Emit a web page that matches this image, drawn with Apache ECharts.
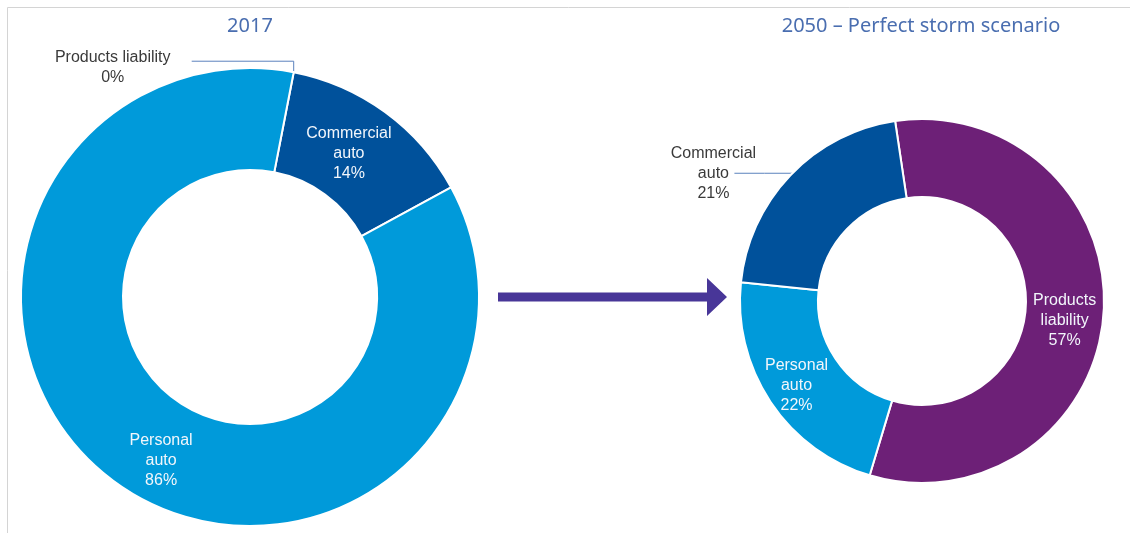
<!DOCTYPE html>
<html>
<head>
<meta charset="utf-8">
<script src="https://cdn.jsdelivr.net/npm/echarts@6/dist/echarts.min.js"></script>
<style>
  html, body { margin: 0; padding: 0; background: #ffffff; }
  #chart { width: 1130px; height: 533px; }
</style>
</head>
<body>
<div id="chart"></div>
<script>
// Loss mix by line of business, 2017 vs 2050 scenario
const categories2017 = ['Products liability', 'Commercial auto', 'Personal auto'];
const labels2017 = ['Products liability', 'Commercial\nauto', 'Personal\nauto'];
const values2017 = [0, 14, 86];

const categories2050 = ['Products liability', 'Personal auto', 'Commercial auto'];
const labels2050 = ['Products\nliability', 'Personal\nauto', 'Commercial\nauto'];
const values2050 = [57, 22, 21];

const titles = ['2017', '2050 – Perfect storm scenario'];

const colors = {
  'Products liability': '#6d2077',
  'Commercial auto': '#00519b',
  'Personal auto': '#009ada'
};
const FONT = '"Liberation Sans", Arial, Helvetica, sans-serif';
const TITLE_FONT = '"Noto Sans", "Liberation Sans", Arial, sans-serif';
const LINE_COLOR = '#5b82bd';

function buildItems(cats, labels, vals, outsideCats) {
  return cats.map(function (c, i) {
    const outside = outsideCats.indexOf(c) >= 0;
    return {
      name: c,
      value: vals[i],
      itemStyle: { color: colors[c] },
      label: {
        show: true,
        position: outside ? 'outside' : 'inside',
        formatter: labels[i] + '\n' + vals[i] + '%',
        color: outside ? '#3a3a3a' : '#f2f6fb',
        fontFamily: FONT,
        fontSize: 16,
        lineHeight: 20,
        align: 'center'
      },
      labelLine: {
        show: outside,
        lineStyle: { color: LINE_COLOR, width: 1 }
      }
    };
  });
}

const chart = echarts.init(document.getElementById('chart'), null, { renderer: 'canvas' });

const titleStyle = { color: '#4a6eb0', fontSize: 20, fontWeight: 'normal', fontFamily: TITLE_FONT };

chart.setOption({
  backgroundColor: '#ffffff',
  animation: false,
  title: [
    { text: titles[0], left: 250, top: 16, textAlign: 'center', padding: 0, textStyle: titleStyle },
    { text: titles[1], left: 921, top: 16, textAlign: 'center', padding: 0, textStyle: titleStyle }
  ],
  graphic: [
    // frame lines along the top and left edges
    { type: 'line', shape: { x1: 7.5, y1: 7.5, x2: 1130, y2: 7.5 }, style: { stroke: '#d4d4d4', lineWidth: 1 } },
    { type: 'line', shape: { x1: 7.5, y1: 7.5, x2: 7.5, y2: 533 }, style: { stroke: '#d4d4d4', lineWidth: 1 } },
    // transition arrow between the two rings
    {
      type: 'polygon',
      shape: { points: [[498, 292.5], [707, 292.5], [707, 278], [727, 297], [707, 316], [707, 301.5], [498, 301.5]] },
      style: { fill: '#483698' }
    }
  ],
  series: [
    {
      type: 'pie',
      center: [250, 297],
      radius: [127, 229],
      startAngle: 79,
      clockwise: true,
      avoidLabelOverlap: false,
      minShowLabelAngle: 0,
      itemStyle: { borderColor: '#ffffff', borderWidth: 2 },
      emphasis: { disabled: true },
      data: buildItems(categories2017, labels2017, values2017, ['Products liability']),
      labelLayout: function (p) {
        if (p.dataIndex === 0 && p.labelLinePoints) {
          const x0 = p.labelLinePoints[0][0];
          const y0 = p.labelLinePoints[0][1];
          return {
            x: x0 - 181, y: y0 - 5, align: 'center', verticalAlign: 'middle',
            labelLinePoints: [[x0, y0], [x0, y0 - 11], [x0 - 102, y0 - 11]]
          };
        }
        if (p.dataIndex === 1) return { dx: -8, dy: 3 };
        if (p.dataIndex === 2) return { dx: 18, dy: 18 };
        return {};
      }
    },
    {
      type: 'pie',
      center: [922, 301],
      radius: [104, 182],
      startAngle: 98.5,
      clockwise: true,
      avoidLabelOverlap: false,
      itemStyle: { borderColor: '#ffffff', borderWidth: 2 },
      emphasis: { disabled: true },
      data: buildItems(categories2050, labels2050, values2050, ['Commercial auto']),
      labelLayout: function (p) {
        if (p.dataIndex === 2 && p.labelLinePoints) {
          const x0 = p.labelLinePoints[0][0];
          const y0 = p.labelLinePoints[0][1];
          return {
            x: x0 - 77, y: y0 - 2, align: 'center', verticalAlign: 'middle',
            labelLinePoints: [[x0 + 4, y0 - 2], [x0 - 26, y0 - 2], [x0 - 56, y0 - 2]]
          };
        }
        if (p.dataIndex === 0) return { dx: -3, dy: 9 };
        if (p.dataIndex === 1) return { dx: -4, dy: 4 };
        return {};
      }
    }
  ]
});
</script>
</body>
</html>
